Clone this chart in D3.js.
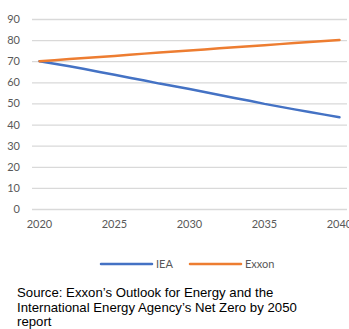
<!DOCTYPE html>
<html>
<head>
<meta charset="utf-8">
<script src="https://cdn.jsdelivr.net/npm/d3@7"></script>
<style>
  body { margin: 0; background: #fff; }
</style>
</head>
<body>
<script>
// Data
const years = d3.range(2020, 2041);
const tickYears = [2020, 2025, 2030, 2035, 2040];
const yTicks = [0, 10, 20, 30, 40, 50, 60, 70, 80, 90];
const ieaValues = [70, 68.8, 67.6, 66.3, 64.9, 63.6, 62.2, 60.9, 59.4, 58.1, 56.8,
                   55.4, 54.0, 52.6, 51.3, 49.8, 48.5, 47.2, 45.9, 44.7, 43.5];
const exxonValues = [70, 70.5, 71, 71.5, 72, 72.5, 73.1, 73.6, 74.1, 74.6, 75.1,
                     75.6, 76.1, 76.6, 77.1, 77.6, 78.1, 78.6, 79.1, 79.6, 80];
const seriesNames = ["IEA", "Exxon"];
const seriesColors = ["#4472C4", "#ED7D31"];
const sourceLines = [
    "Source: Exxon\u2019s Outlook for Energy and the",
    "International Energy Agency\u2019s Net Zero by 2050",
    "report"
];

const W = 349, H = 329;
const plotLeft = 32, plotRight = 347, plotTop = 19, plotBottom = 209;

const svg = d3.select("body").append("svg")
    .attr("width", W)
    .attr("height", H);

const xScale = d3.scaleBand()
    .domain(years)
    .range([plotLeft, plotRight]);
const xPos = d => xScale(d) + xScale.bandwidth() / 2;

const yScale = d3.scaleLinear()
    .domain([0, 90])
    .range([plotBottom, plotTop]);

// Gridlines + y labels
const yAxis = d3.axisLeft(yScale)
    .tickValues(yTicks)
    .tickSize(-(plotRight - plotLeft))
    .tickPadding(12);

const yG = svg.append("g")
    .attr("transform", `translate(${plotLeft},0)`)
    .call(yAxis);
yG.select(".domain").remove();
yG.selectAll("line")
    .attr("stroke", "#d9d9d9")
    .attr("stroke-width", 1.3);
yG.selectAll("text")
    .attr("fill", "#595959")
    .style("font-family", "Lato, 'Open Sans', sans-serif")
    .style("font-size", "11px");

// x labels (2040 runs off the right edge, as in the original)
const xAxis = d3.axisBottom(xScale)
    .tickValues(tickYears)
    .tickSize(0)
    .tickPadding(11);

const xG = svg.append("g")
    .attr("transform", `translate(0,${plotBottom})`)
    .call(xAxis);
xG.select(".domain").remove();
xG.selectAll("text")
    .attr("fill", "#595959")
    .style("font-family", "Lato, 'Open Sans', sans-serif")
    .style("font-size", "11px");

// Lines
const line = d3.line()
    .x((d, i) => xPos(years[i]))
    .y(d => yScale(d));

[ieaValues, exxonValues].forEach((vals, i) => {
    svg.append("path")
        .datum(vals)
        .attr("fill", "none")
        .attr("stroke", seriesColors[i])
        .attr("stroke-width", 2.5)
        .attr("stroke-linejoin", "round")
        .attr("stroke-linecap", "round")
        .attr("d", line);
});

// Legend
const legendX = [101, 190];
const legend = svg.append("g")
    .selectAll("g")
    .data(seriesNames)
    .enter()
    .append("g")
    .attr("transform", (d, i) => `translate(${legendX[i]},264)`);

legend.append("line")
    .attr("x1", 0)
    .attr("x2", 51)
    .attr("stroke", (d, i) => seriesColors[i])
    .attr("stroke-width", 2.5)
    .attr("stroke-linecap", "round");

legend.append("text")
    .attr("x", 55)
    .attr("dy", "0.35em")
    .attr("fill", "#595959")
    .style("font-family", "Lato, 'Open Sans', sans-serif")
    .style("font-size", "11px")
    .text(d => d);

// Source note
svg.append("g")
    .selectAll("text")
    .data(sourceLines)
    .enter()
    .append("text")
    .attr("x", 17)
    .attr("y", (d, i) => 297 + i * 14.5)
    .attr("fill", "#000")
    .style("font-family", "'Liberation Sans', Arial, sans-serif")
    .style("font-size", "13.2px")
    .text(d => d);
</script>
</body>
</html>
